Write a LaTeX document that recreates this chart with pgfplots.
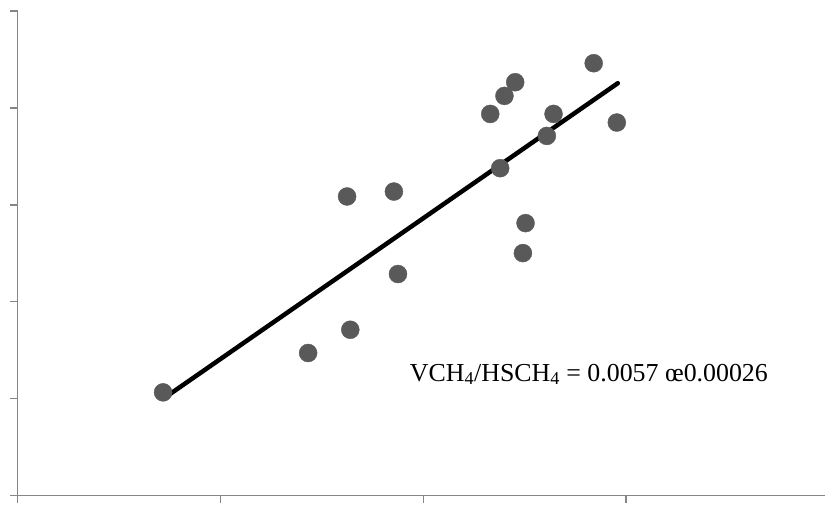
\documentclass[border=0pt]{standalone}
\usepackage{fontspec}
\setmainfont{Liberation Serif}
\usepackage{pgfplots}
\pgfplotsset{compat=1.18}
\definecolor{axgray}{HTML}{868686}
\definecolor{ptgray}{HTML}{595959}
\begin{document}
\begin{tikzpicture}
\begin{axis}[
  at={(0,0)}, anchor=south west,
  scale only axis,
  width=808.3bp, height=485bp,
  xmin=0, xmax=3.982, ymin=0, ymax=5,
  axis x line*=bottom, axis y line*=left,
  axis line style={axgray, line width=1.4bp, -},
  xtick={0,1,2,3}, ytick={0,1,2,3,4,5},
  xticklabels={}, yticklabels={},
  tick align=outside,
  major tick length=7.5bp,
  tick style={axgray, line width=1.4bp},
  clip=false,
]
\addplot[only marks, mark=*, mark size=9bp, mark options={fill=ptgray, draw=ptgray}] coordinates {
(0.717,1.065) (1.432,1.471) (1.640,1.711) (1.624,3.086) (1.855,3.137)
(1.875,2.286) (2.330,3.938) (2.400,4.124) (2.453,4.265) (2.379,3.378)
(2.642,3.938) (2.609,3.711) (2.504,2.811) (2.491,2.502) (2.840,4.461)
(2.954,3.849)
};
\addplot[black, line width=4.5bp, line cap=round] coordinates {(0.725,1.010) (2.959,4.255)};
\node[anchor=base west, inner sep=0pt, font=\fontsize{26}{30}\selectfont] at (axis cs:1.933,1.180) {VCH\textsubscript{4}/HSCH\textsubscript{4} = 0.0057 œ0.00026};
\end{axis}
\path[use as bounding box] (-17.7bp,-3bp) rectangle (808.3bp,496bp);
\end{tikzpicture}
\end{document}
